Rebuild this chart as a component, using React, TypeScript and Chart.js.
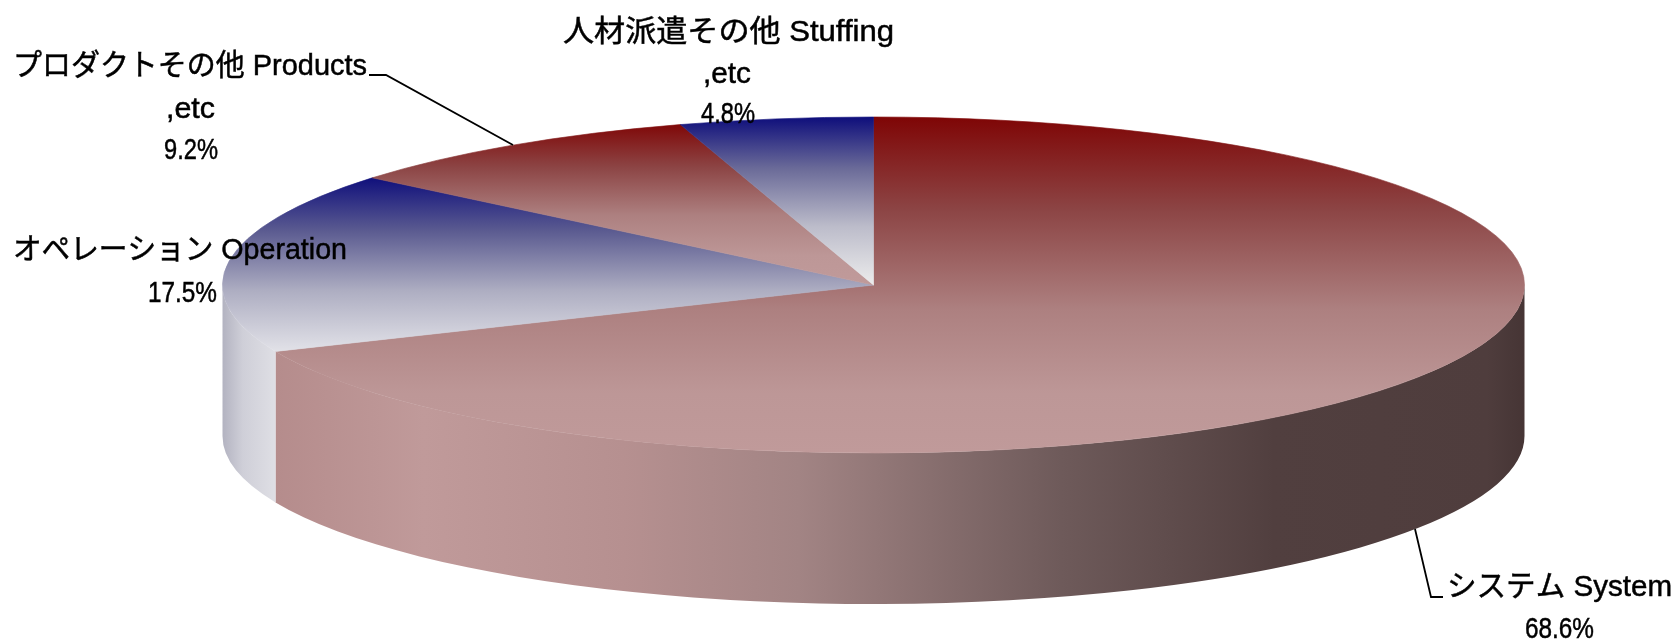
import React, { useEffect, useRef } from "react";
import { Chart, registerables } from "chart.js";

Chart.register(...registerables);

const categories = ["システム System", "オペレーション Operation", "プロダクトその他 Products", "人材派遣その他 Stuffing"];
const shares = [68.6, 17.5, 9.2, 4.8];

const W = 1677;
const H = 639;
const RX = 651;
const RY = 168;
const DEPTH = 151;
const SQUISH = RY / RX;
const FONT = '30px "Liberation Sans", "Noto Sans CJK JP", sans-serif';

type Stop = [number, string];

// top-face vertical gradients: [top y, bottom y, stops]
const RED_STOPS: Stop[] = [[0, "#7f0606"], [0.27, "#8c4444"], [0.57, "#ad8080"], [0.82, "#bd9797"], [1, "#c09a9a"]];
const BLUE_STOPS: Stop[] = [[0, "#10107c"], [0.3, "#5a5a90"], [0.65, "#aeaec2"], [1, "#e2e2e8"]];
const faceFill: [number, number, Stop[]][] = [
  [118, 454, RED_STOPS],
  [178, 352, BLUE_STOPS],
  [123, 285, RED_STOPS],
  [118, 285, [[0, "#10107c"], [0.3, "#6a6a98"], [0.65, "#bcbcca"], [1, "#ececec"]]],
];
// side-wall horizontal gradients: [left x, right x, stops]
const wallFill: [number, number, Stop[]][] = [
  [274, 1524, [[0, "#b58c8c"], [0.12, "#c09a9a"], [0.28, "#b69090"], [0.42, "#a28484"], [0.63, "#6e5a5a"], [0.8, "#513f3f"], [0.97, "#4f3d3d"], [1, "#463535"]]],
  [222, 274, [[0, "#b2b2c0"], [0.4, "#cfcfd8"], [1, "#dedee4"]]],
  [0, 1, [[0, "#fff"], [1, "#fff"]]],
  [0, 1, [[0, "#fff"], [1, "#fff"]]],
];

// text, left x, baseline y, fitted width
const labelLines: [string, number, number, number][] = [
  [categories[3], 563, 41, 331],
  [",etc", 703, 83, 48],
  [`${shares[3]}%`, 701, 123, 54],
  [categories[2], 13, 75, 354],
  [",etc", 166, 118, 49],
  [`${shares[2]}%`, 164, 159, 54],
  [categories[1], 13, 259, 334],
  [`${shares[1]}%`, 148, 302, 69],
  [categories[0], 1447, 596, 225],
  [`${shares[0]}%`, 1525, 638, 69],
];
const leaders: [number, number][][] = [
  [[369, 75], [386, 75], [513, 145]],
  [[1415, 529], [1431, 597], [1443, 597]],
];

function linear(ctx: CanvasRenderingContext2D, x0: number, y0: number, x1: number, y1: number, stops: Stop[]) {
  const g = ctx.createLinearGradient(x0, y0, x1, y1);
  stops.forEach(([o, c]) => g.addColorStop(o, c));
  return g;
}

const pie3d = {
  id: "pie3d",
  beforeDatasetsDraw(chart: any) {
    const { ctx } = chart;
    const arcs = chart.getDatasetMeta(0).data;
    ctx.save();
    arcs.forEach((arc: any, i: number) => {
      const { startAngle, endAngle, x, y, outerRadius } = arc.getProps(["startAngle", "endAngle", "x", "y", "outerRadius"], true);
      const ry = outerRadius * SQUISH;
      const a0 = Math.max(startAngle, 0);
      const a1 = Math.min(endAngle, Math.PI);
      if (a1 <= a0) return;
      const [l, r, stops] = wallFill[i];
      ctx.fillStyle = linear(ctx, l, 0, r, 0, stops);
      ctx.beginPath();
      ctx.ellipse(x, y, outerRadius, ry, 0, a0, a1);
      ctx.ellipse(x, y + DEPTH, outerRadius, ry, 0, a1, a0, true);
      ctx.closePath();
      ctx.fill();
    });
    ctx.restore();
    const c = arcs[0];
    ctx.save();
    ctx.translate(c.x, c.y);
    ctx.scale(1, SQUISH);
    ctx.translate(-c.x, -c.y);
  },
  afterDatasetsDraw(chart: any) {
    const { ctx } = chart;
    ctx.restore();
    ctx.save();
    ctx.strokeStyle = "#000";
    ctx.lineWidth = 1.8;
    leaders.forEach((pts) => {
      ctx.beginPath();
      pts.forEach(([x, y], i) => (i ? ctx.lineTo(x, y) : ctx.moveTo(x, y)));
      ctx.stroke();
    });
    ctx.fillStyle = "#000";
    ctx.lineWidth = 0.5;
    ctx.font = FONT;
    ctx.textBaseline = "alphabetic";
    ctx.textAlign = "left";
    labelLines.forEach(([t, x, y, w]) => {
      const m = ctx.measureText(t).width;
      ctx.save();
      ctx.translate(x, y);
      ctx.scale(w / m, 1);
      ctx.fillText(t, 0, 0);
      ctx.strokeText(t, 0, 0);
      ctx.restore();
    });
    ctx.restore();
  },
};

export default function App() {
  const ref = useRef<HTMLCanvasElement>(null);
  useEffect(() => {
    const face = (c: any) => {
      const area = c.chart.chartArea;
      if (!area || c.dataIndex === undefined) return "#888";
      const cy = (area.top + area.bottom) / 2;
      const [t, b, stops] = faceFill[c.dataIndex];
      return linear(c.chart.ctx, 0, cy + (t - cy) / SQUISH, 0, cy + (b - cy) / SQUISH, stops);
    };
    const chart = new Chart(ref.current as HTMLCanvasElement, {
      type: "pie",
      data: {
        labels: categories,
        datasets: [
          {
            data: shares,
            clip: false,
            borderWidth: 1,
            borderColor: face,
            radius: RX,
            backgroundColor: face,
          } as any,
        ],
      },
      options: {
        responsive: false,
        animation: false,
        events: [],
        layout: { padding: { left: 70, bottom: 69 } },
        plugins: { legend: { display: false }, tooltip: { enabled: false } },
      },
      plugins: [pie3d],
    });
    return () => chart.destroy();
  }, []);
  return (
    <div style={{ position: "fixed", left: 0, top: 0, width: W, height: H, background: "#fff" }}>
      <canvas ref={ref} width={W} height={H} style={{ display: "block" }} />
    </div>
  );
}
